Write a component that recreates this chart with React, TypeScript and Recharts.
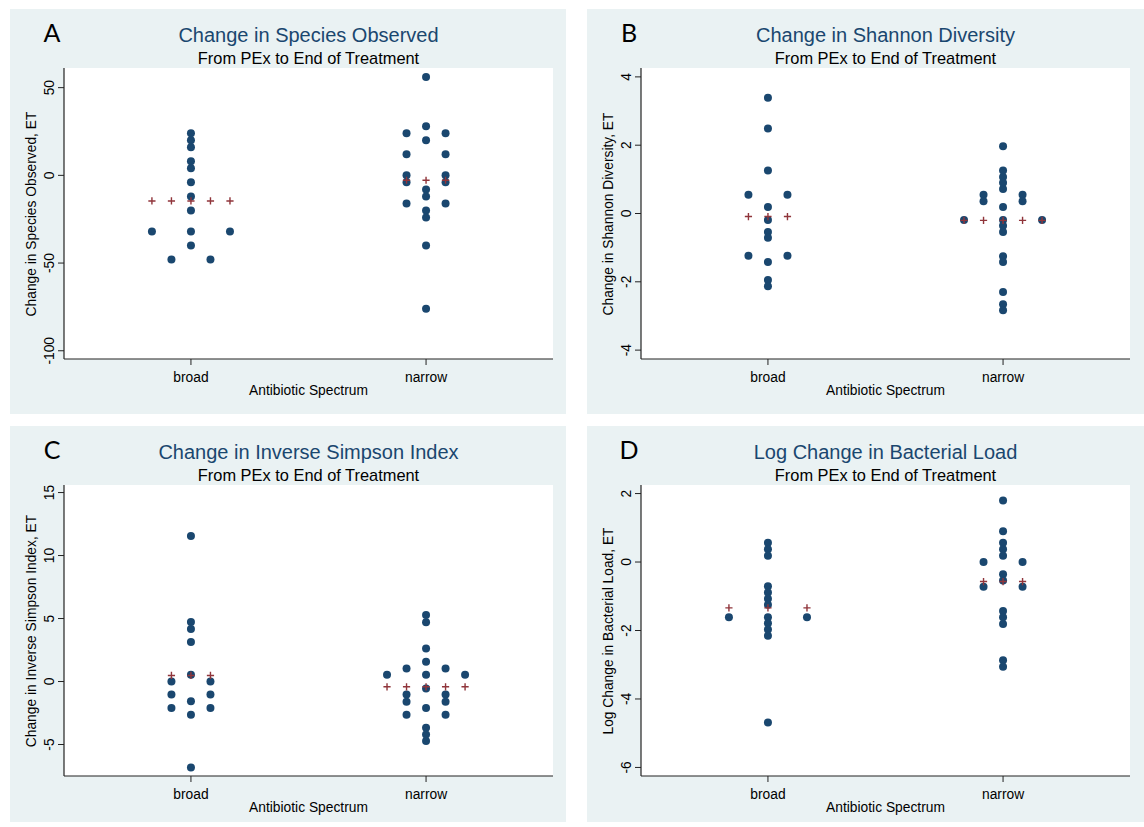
import React from 'react';
import { ScatterChart, Scatter, XAxis, YAxis, CartesianGrid } from 'recharts';

const categories = ['broad', 'narrow'];

// values (Stata bins), per antibiotic spectrum
const speciesBroad = [24, 20, 16, 8, 4, -4, -12, -20, -32, -32, -32, -40, -48, -48];
const speciesNarrow = [56, 28, 24, 24, 20, 12, 12, 0, 0, -4, -4, -8, -12, -16, -16, -20, -24, -40, -76];
const speciesMedian = [-14.6, -2.8];
const speciesTicks = [-100, -50, 0, 50];

const shannonBroad = [3.39, 2.49, 1.26, 0.55, 0.55, 0.19, -0.19, -0.54, -0.71, -1.24, -1.24, -1.42, -1.95, -2.13];
const shannonNarrow = [1.97, 1.26, 1.07, 0.9, 0.72, 0.55, 0.55, 0.36, 0.36, 0.19, -0.19, -0.19, -0.19, -0.36, -0.54, -1.25, -1.42, -2.3, -2.66, -2.83];
const shannonMedian = [-0.09, -0.2];
const shannonTicks = [-4, -2, 0, 2, 4];

const simpsonBroad = [11.55, 4.73, 4.17, 3.13, 0.53, 0, 0, -1.04, -1.04, -1.57, -2.1, -2.1, -2.63, -6.82];
const simpsonNarrow = [5.28, 4.7, 2.63, 1.57, 1.04, 1.04, 0.53, 0.53, 0.53, -0.56, -1.04, -1.04, -1.6, -1.6, -2.1, -2.63, -2.63, -3.66, -4.2, -4.73];
const simpsonMedian = [0.48, -0.42];
const simpsonTicks = [-5, 0, 5, 10, 15];

const loadBroad = [0.56, 0.37, 0.18, -0.71, -0.89, -1.07, -1.25, -1.61, -1.61, -1.61, -1.79, -1.97, -2.15, -4.69];
const loadNarrow = [1.8, 0.9, 0.56, 0.37, 0.18, 0, 0, -0.36, -0.54, -0.72, -0.72, -1.43, -1.61, -1.81, -2.87, -3.06];
const loadMedian = [-1.34, -0.57];
const loadTicks = [-6, -4, -2, 0, 2];

const NAVY = '#1a476f';
const MAROON = '#90353b';
const BG = '#eaf2f3';
const FONT = "'Liberation Sans', Arial, sans-serif";

const PLOT_L = 54;
const PLOT_T = 59;
const PLOT_W = 489;
const PLOT_H = 291;
const SLOT = 0.166; // horizontal step of the dot plot, in x units

// spread equal values side by side, like Stata's dotplot
function layout(values: number[], cat: number) {
  const groups = new Map<number, number>();
  values.forEach(v => groups.set(v, (groups.get(v) || 0) + 1));
  const pts: { x: number; y: number }[] = [];
  const offsets = new Set<number>();
  groups.forEach((n, v) => {
    for (let i = 1; i <= n; i++) {
      const off = (i - (n + 1) / 2) * SLOT;
      offsets.add(off);
      pts.push({ x: cat + off, y: v });
    }
  });
  return { pts, offsets: [...offsets] };
}

function buildData(broad: number[], narrow: number[], medians: number[]) {
  const dots: { x: number; y: number }[] = [];
  const meds: { x: number; y: number }[] = [];
  [broad, narrow].forEach((vals, i) => {
    const { pts, offsets } = layout(vals, i + 1);
    dots.push(...pts);
    offsets.forEach(off => meds.push({ x: i + 1 + off, y: medians[i] }));
  });
  return { dots, meds };
}

const Dot = (props: any) => <circle cx={props.cx} cy={props.cy} r={4} fill={NAVY} />;

const Cross = (props: any) => (
  <path
    d={`M${props.cx - 3.6},${props.cy}H${props.cx + 3.6}M${props.cx},${props.cy - 3.6}V${props.cy + 3.6}`}
    stroke={MAROON}
    strokeWidth={1.4}
    fill="none"
  />
);

const XTick = (props: any) => (
  <text x={props.x} y={props.y + 12} textAnchor="middle" dominantBaseline="central" fontSize={13.8} fontFamily={FONT} fill="#000">
    {categories[props.payload.value - 1]}
  </text>
);

const YTick = (props: any) => (
  <text
    x={props.x - 8.5}
    y={props.y}
    transform={`rotate(-90 ${props.x - 8.5} ${props.y})`}
    textAnchor="middle"
    dominantBaseline="central"
    fontSize={13.8}
    fontFamily={FONT}
    fill="#000"
  >
    {props.payload.value}
  </text>
);

interface PanelProps {
  letter: string;
  title: string;
  yLabel: string;
  broad: number[];
  narrow: number[];
  medians: number[];
  domain: [number, number];
  ticks: number[];
  left: number;
  top: number;
  width: number;
  height: number;
}

function Panel({ letter, title, yLabel, broad, narrow, medians, domain, ticks, left, top, width, height }: PanelProps) {
  const { dots, meds } = buildData(broad, narrow, medians);
  const cx = PLOT_L + PLOT_W / 2;
  const center: React.CSSProperties = { position: 'absolute', transform: 'translate(-50%, -50%)', whiteSpace: 'nowrap', lineHeight: 1 };
  return (
    <div style={{ position: 'absolute', left, top, width, height, background: BG, fontFamily: FONT }}>
      <ScatterChart width={width} height={height} margin={{ top: PLOT_T, right: width - PLOT_L - PLOT_W, bottom: 0, left: 0 }}>
        <CartesianGrid fill="#ffffff" horizontal={false} vertical={false} stroke="none" />
        <XAxis
          type="number"
          dataKey="x"
          domain={[0.46, 2.54]}
          ticks={[1, 2]}
          interval={0}
          allowDataOverflow
          height={height - PLOT_T - PLOT_H}
          tickSize={6}
          tickMargin={0}
          tick={XTick}
          axisLine={{ stroke: '#222', strokeWidth: 1.2 }}
          tickLine={{ stroke: '#222' }}
        />
        <YAxis
          type="number"
          dataKey="y"
          domain={domain}
          ticks={ticks}
          interval={0}
          allowDataOverflow
          width={PLOT_L}
          tickSize={6}
          tickMargin={0}
          tick={YTick}
          axisLine={{ stroke: '#222', strokeWidth: 1.2 }}
          tickLine={{ stroke: '#222' }}
        />
        <Scatter data={dots} shape={Dot} isAnimationActive={false} />
        <Scatter data={meds} shape={Cross} isAnimationActive={false} />
      </ScatterChart>
      <div style={{ ...center, left: 42, top: 23, fontFamily: 'Lato, sans-serif', fontSize: 25, color: '#000' }}>{letter}</div>
      <div style={{ ...center, left: cx, top: 26, fontSize: 20, color: NAVY }}>{title}</div>
      <div style={{ ...center, left: cx, top: 49, fontSize: 16.4, color: '#000' }}>From PEx to End of Treatment</div>
      <div style={{ ...center, left: 22, top: PLOT_T + PLOT_H / 2, fontSize: 13.8, transform: 'translate(-50%, -50%) rotate(-90deg)' }}>{yLabel}</div>
      <div style={{ ...center, left: cx, top: PLOT_T + PLOT_H + 32, fontSize: 13.8 }}>Antibiotic Spectrum</div>
    </div>
  );
}

export default function App() {
  return (
    <div style={{ position: 'absolute', left: 0, top: 0, width: 1144, height: 827, background: '#fff' }}>
      <Panel letter="A" title="Change in Species Observed" yLabel="Change in Species Observed, ET"
        broad={speciesBroad} narrow={speciesNarrow} medians={speciesMedian}
        domain={[-104.7, 61.2]} ticks={speciesTicks} left={10} top={9} width={556} height={405} />
      <Panel letter="B" title="Change in Shannon Diversity" yLabel="Change in Shannon Diversity, ET"
        broad={shannonBroad} narrow={shannonNarrow} medians={shannonMedian}
        domain={[-4.26, 4.26]} ticks={shannonTicks} left={587} top={9} width={557} height={405} />
      <Panel letter="C" title="Change in Inverse Simpson Index" yLabel="Change in Inverse Simpson Index, ET"
        broad={simpsonBroad} narrow={simpsonNarrow} medians={simpsonMedian}
        domain={[-7.5, 15.6]} ticks={simpsonTicks} left={10} top={426} width={556} height={396} />
      <Panel letter="D" title="Log Change in Bacterial Load" yLabel="Log Change in Bacterial Load, ET"
        broad={loadBroad} narrow={loadNarrow} medians={loadMedian}
        domain={[-6.25, 2.25]} ticks={loadTicks} left={587} top={426} width={557} height={396} />
    </div>
  );
}
